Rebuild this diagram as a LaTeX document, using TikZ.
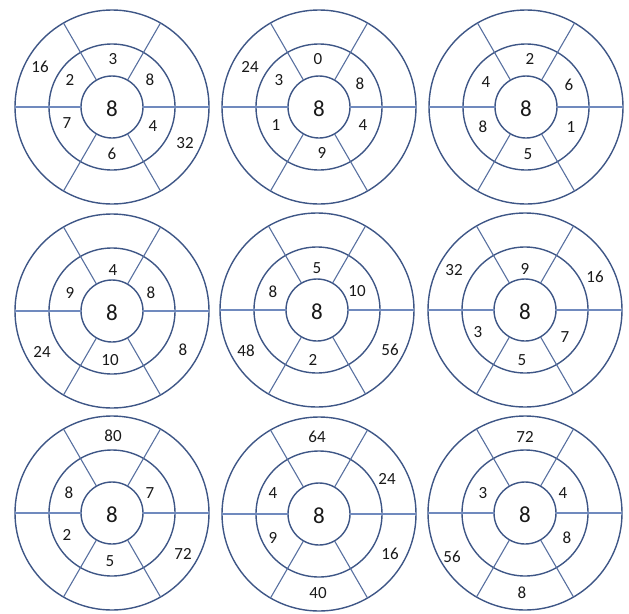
\documentclass[tikz,border=0pt]{standalone}
\usepackage{fontspec}
\setmainfont{Carlito}
\usepackage{xcolor}
\usepackage{tikz}
\usetikzlibrary{calc}

\definecolor{ringblue}{RGB}{62,86,134}
\definecolor{spokeblue}{RGB}{88,112,160}
\definecolor{flatblue}{RGB}{112,138,190}

\newcommand{\numfont}{\fontsize{17}{17}\selectfont}
\newcommand{\hubfont}{\fontsize{23}{23}\selectfont}

% one wheel: name, centre x, centre y, list of dx/dy/label
\newcommand{\wheel}[4]{%
	\begin{scope}[shift={(#2,#3)}]
		\coordinate (#1) at (0,0);
		\draw[ring] (#1) circle[radius=97pt] (#1) circle[radius=63pt] (#1) circle[radius=31pt];
		\foreach \a in {60,120,240,300}
			\draw[spoke] (\a:31pt) -- (\a:97pt);
		\foreach \a in {0,180}
			\draw[flat] (\a:31pt) -- (\a:97pt);
		\node[hub] (#1-hub) at (0,2) {8};
		\foreach \dx/\dy/\t [count=\i] in {#4}
			\node[num] (#1-\i) at (\dx,\dy) {\t};
	\end{scope}
}

\begin{document}
\begin{tikzpicture}[
		x=1pt, y=-1pt,
		ring/.style={draw=ringblue, line width=1.4pt},
		spoke/.style={draw=spokeblue, line width=1.1pt},
		flat/.style={draw=flatblue, line width=1.1pt},
		num/.style={font=\numfont, text=black!90, inner sep=0pt},
		hub/.style={font=\hubfont, text=black!90, inner sep=0pt}
		]

		\useasboundingbox (0,0) rectangle (629,613);

		% top row
		\wheel{wa}{112}{107}{-72/-40/16, 1/-48/3, -42/-27/2, 38/-27/8, -45/16/7, 41/19/4, 73/36/32, 0/47/6}
		\wheel{wb}{319}{107}{-69/-40/24, -1/-48/0, -40/-27/3, 41/-23/8, -43/18/1, 44/18/4, 3/46/9}
		\wheel{wc}{526}{107}{4/-48/2, -40/-25/4, 43/-22/6, -43/20/8, 45/20/1, 2/47/5}

		% middle row
		\wheel{wd}{112}{311}{1/-41/4, -42/-18/9, 39/-18/8, -70/41/24, -2/49/10, 71/39/8}
		\wheel{we}{317}{310}{0/-42/5, -44/-18/8, 40/-19/10, -71/41/48, -4/50/2, 73/40/56}
		\wheel{wf}{525}{310}{-71/-40/32, 0/-41/9, 70/-33/16, -47/22/3, 40/27/7, -3/50/5}

		% bottom row
		\wheel{wg}{112}{513}{1/-77/80, -43/-20/8, 38/-20/7, -45/22/2, 71/41/72, -2/48/5}
		\wheel{wh}{319}{514}{-2/-77/64, 68/-35/24, -46/-21/4, -46/24/9, 71/40/16, -1/79/40}
		\wheel{wi}{525}{513}{0/-76/72, -42/-20/3, 38/-20/4, -73/44/56, 42/25/8, -3/80/8}
	\end{tikzpicture}
\end{document}
